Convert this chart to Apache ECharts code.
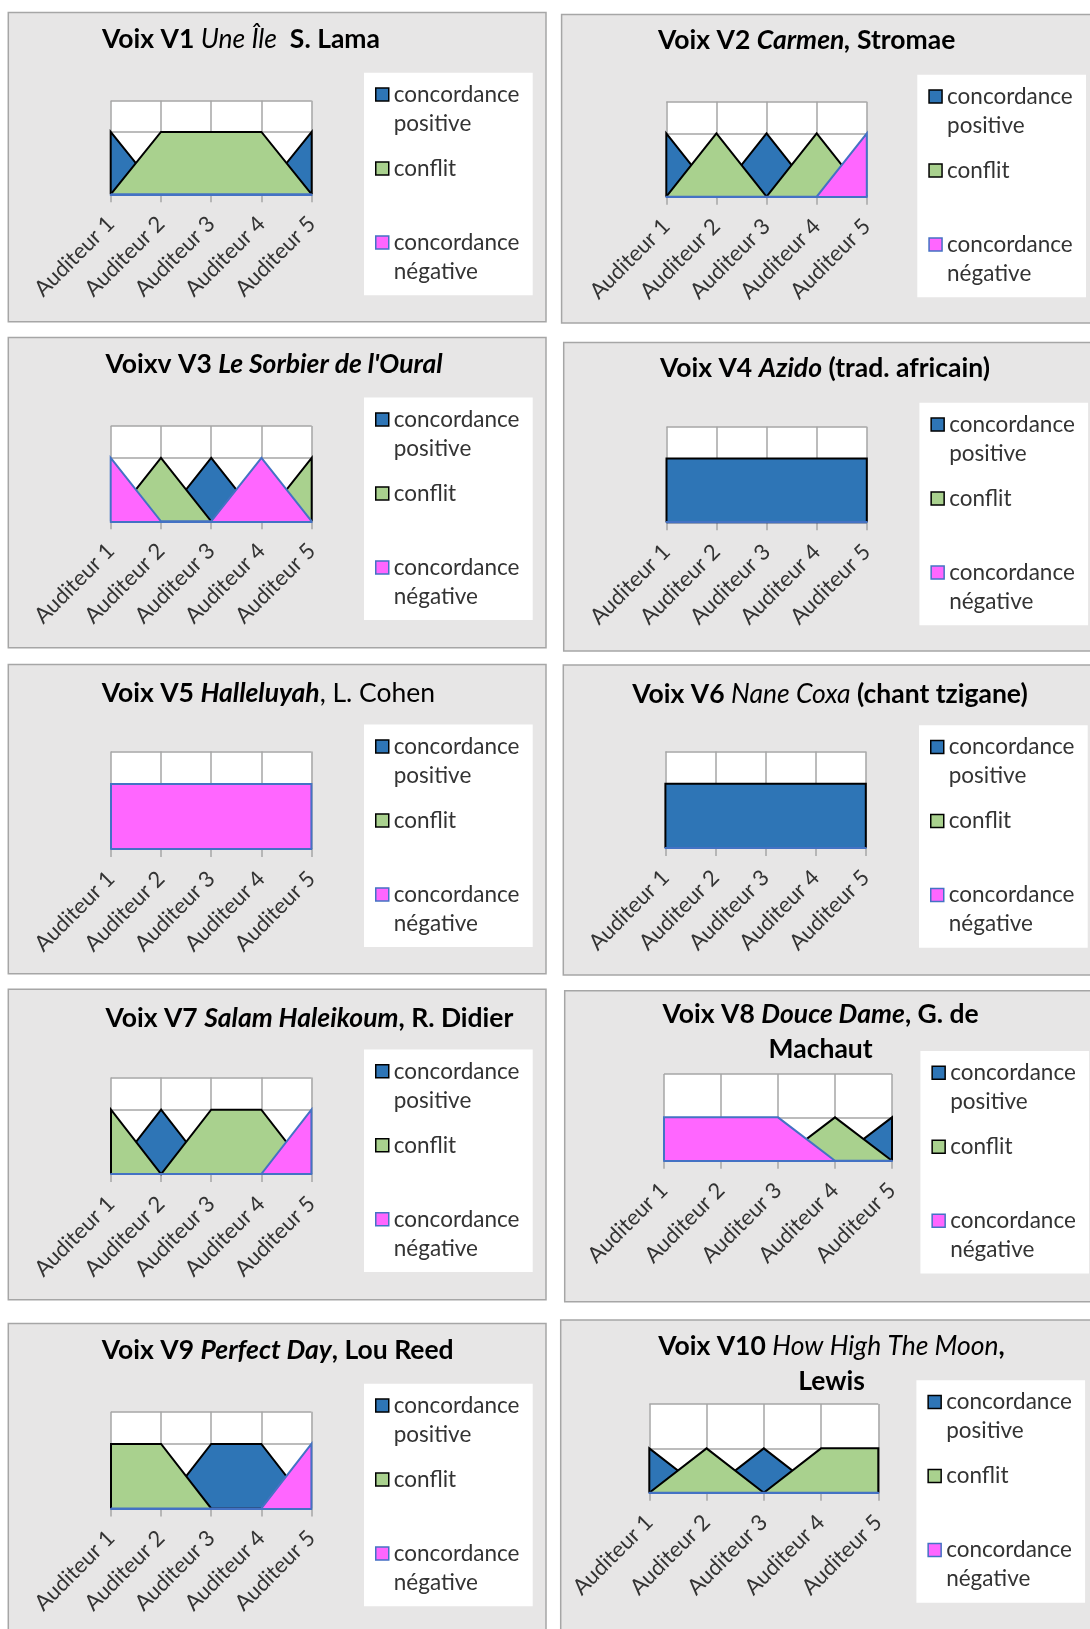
<!DOCTYPE html>
<html><head><meta charset="utf-8">
<script src="https://cdn.jsdelivr.net/npm/echarts@6/dist/echarts.min.js"></script>
<style>html,body{margin:0;padding:0;background:#fff}#c{width:1090px;height:1629px}</style>
</head><body><div id="c"></div>
<script>
// ---------- DATA ----------
const categories = ['Auditeur 1', 'Auditeur 2', 'Auditeur 3', 'Auditeur 4', 'Auditeur 5'];
const seriesNames = ['concordance positive', 'conflit', 'concordance négative'];
const legendLabels = ['concordance\npositive', 'conflit', 'concordance\nnégative'];

const v1Pos = [1, 0, 0, 0, 1], v1Con = [0, 1, 1, 1, 0], v1Neg = [0, 0, 0, 0, 0];
const v2Pos = [1, 0, 1, 0, 0], v2Con = [0, 1, 0, 1, 0], v2Neg = [0, 0, 0, 0, 1];
const v3Pos = [0, 0, 1, 0, 0], v3Con = [0, 1, 0, 0, 1], v3Neg = [1, 0, 0, 1, 0];
const v4Pos = [1, 1, 1, 1, 1], v4Con = [0, 0, 0, 0, 0], v4Neg = [0, 0, 0, 0, 0];
const v5Pos = [0, 0, 0, 0, 0], v5Con = [0, 0, 0, 0, 0], v5Neg = [1, 1, 1, 1, 1];
const v6Pos = [1, 1, 1, 1, 1], v6Con = [0, 0, 0, 0, 0], v6Neg = [0, 0, 0, 0, 0];
const v7Pos = [0, 1, 0, 0, 0], v7Con = [1, 0, 1, 1, 0], v7Neg = [0, 0, 0, 0, 1];
const v8Pos = [0, 0, 0, 0, 1], v8Con = [0, 0, 0, 1, 0], v8Neg = [1, 1, 1, 0, 0];
const v9Pos = [0, 0, 1, 1, 0], v9Con = [1, 1, 0, 0, 0], v9Neg = [0, 0, 0, 0, 1];
const v10Pos = [1, 0, 1, 0, 0], v10Con = [0, 1, 0, 1, 1], v10Neg = [0, 0, 0, 0, 0];

const voices = [
  [v1Pos, v1Con, v1Neg], [v2Pos, v2Con, v2Neg], [v3Pos, v3Con, v3Neg], [v4Pos, v4Con, v4Neg],
  [v5Pos, v5Con, v5Neg], [v6Pos, v6Con, v6Neg], [v7Pos, v7Con, v7Neg], [v8Pos, v8Con, v8Neg],
  [v9Pos, v9Con, v9Neg], [v10Pos, v10Con, v10Neg]
];

const titles = [
  '{b|Voix V1 }{i|Une Île}{b|  S. Lama}',
  '{b|Voix V2 }{bi|Carmen,}{b| Stromae}',
  "{b|Voixv V3 }{bi|Le Sorbier de l'Oural}",
  '{b|Voix V4 }{bi|Azido}{b| (trad. africain)}',
  '{b|Voix V5 }{bi|Halleluyah}{n|, L. Cohen}',
  '{b|Voix V6 }{i|Nane Coxa}{b| (chant tzigane)}',
  '{b|Voix V7 }{bi|Salam Haleikoum}{b|, R. Didier}',
  '{b|Voix V8 }{bi|Douce Dame}{b|, G. de}\n{b|Machaut}',
  '{b|Voix V9 }{bi|Perfect Day}{b|, Lou Reed}',
  '{b|Voix V10 }{i|How High The Moon}{b|,}\n{b|Lewis}'
];

// ---------- LAYOUT (pixels) ----------
const layout = [
  {px: 8.3,   py: 12.5,   ph: 309.3, tx: 241,   ty: 39.5,   g: [110.7, 311.7, 100.7, 194.3], ymax: 1.5, yint: 0.5},
  {px: 561.6, py: 14.5,   ph: 308.4, tx: 806.7, ty: 40.5,   g: [666.3, 866.8, 101.7, 196.7], ymax: 1.5, yint: 0.5},
  {px: 8.3,   py: 337.4,  ph: 310.4, tx: 274,   ty: 364.4,  g: [110.7, 311.7, 426, 521.3],   ymax: 1.5, yint: 0.5},
  {px: 563.7, py: 342.6,  ph: 308.3, tx: 825,   ty: 368.5,  g: [666.5, 866.8, 426.7, 522.2], ymax: 1.5, yint: 0.5},
  {px: 8.3,   py: 664.4,  ph: 309.3, tx: 268.4, ty: 693.4,  g: [111, 311.4, 751.6, 849.1],   ymax: 1.5, yint: 0.5},
  {px: 563.3, py: 665,    ph: 310,   tx: 830,   ty: 694.5,  g: [665.4, 865.8, 751.6, 848],   ymax: 1.5, yint: 0.5},
  {px: 8.3,   py: 989.3,  ph: 310.4, tx: 309.4, ty: 1018.3, g: [111, 311.4, 1077.5, 1174.1], ymax: 1.5, yint: 0.5},
  {px: 564.7, py: 990.7,  ph: 311,   tx: 820.6, ty: 1031.5, g: [664, 892, 1074, 1160.7],     ymax: 2,   yint: 1},
  {px: 8.3,   py: 1323.6, ph: 330,   tx: 277.7, ty: 1350.6, g: [111, 311.4, 1411.8, 1508.4], ymax: 1.5, yint: 0.5},
  {px: 560.7, py: 1320,   ph: 330,   tx: 831.5, ty: 1364,   g: [649.3, 878.3, 1404, 1492.7], ymax: 2,   yint: 1}
];
const PANEL_W = 537.7;
const FONT = 'Lato';
const fills = ['#2E75B6', '#A9D18E', '#FF66FF'];
const borders = ['#000000', '#000000', '#4472C4'];
const GRID_C = '#A6A6A6';
const TS = 26.5;

const grids = [], xAxes = [], yAxes = [], series = [], legends = [], graphics = [];

const titleRich = {
  b:  {fontFamily: FONT, fontSize: TS, fontWeight: 'bold', lineHeight: 35, color: '#000'},
  bi: {fontFamily: FONT, fontSize: TS, fontWeight: 'bold', fontStyle: 'italic', lineHeight: 35, color: '#000'},
  i:  {fontFamily: FONT, fontSize: TS, fontWeight: 'normal', fontStyle: 'italic', lineHeight: 35, color: '#000'},
  n:  {fontFamily: FONT, fontSize: TS, fontWeight: 'normal', lineHeight: 35, color: '#000'}
};

layout.forEach((L, i) => {
  // panel background & legend box
  graphics.push({type: 'rect', silent: true, z: -2, shape: {x: L.px, y: L.py, width: PANEL_W, height: L.ph},
    style: {fill: '#E7E6E6', stroke: '#A6A6A6', lineWidth: 1.5}});
  graphics.push({type: 'rect', silent: true, z: -1, shape: {x: L.px + 355.7, y: L.py + 60.2, width: 168.7, height: 222.5},
    style: {fill: '#FFFFFF'}});
  graphics.push({type: 'text', silent: true, z: 10, x: L.tx, y: L.ty,
    style: {text: titles[i], rich: titleRich, align: 'center', verticalAlign: 'middle'}});

  grids.push({left: L.g[0], width: L.g[1] - L.g[0], top: L.g[2], height: L.g[3] - L.g[2],
    show: true, backgroundColor: '#FFFFFF', borderWidth: 0, containLabel: false});
  xAxes.push({
    gridIndex: i, type: 'value', min: 0, max: categories.length - 1, interval: 1,
    axisLine: {show: false},
    axisTick: {show: true, length: 8, lineStyle: {color: GRID_C, width: 1.5}},
    splitLine: {show: true, lineStyle: {color: GRID_C, width: 1.5}},
    axisLabel: {rotate: 45, margin: 26, fontFamily: FONT, fontSize: 22, color: '#333',
      showMinLabel: true, showMaxLabel: true, formatter: v => categories[v]}
  });
  xAxes.push({
    gridIndex: i, type: 'value', min: 0, max: categories.length - 1, position: 'bottom', z: 8,
    axisLine: {show: true, onZero: false, lineStyle: {color: '#4472C4', width: 2}},
    axisTick: {show: false}, axisLabel: {show: false}, splitLine: {show: false}
  });
  yAxes.push({
    gridIndex: i, type: 'value', min: 0, max: L.ymax, interval: L.yint,
    axisLine: {show: false}, axisTick: {show: false}, axisLabel: {show: false},
    splitLine: {show: true, lineStyle: {color: GRID_C, width: 1.5}}
  });

  voices[i].forEach((vals, s) => {
    const data = [[0, 0]].concat(vals.map((v, k) => [k, v])).concat([[vals.length - 1, 0]]);
    series.push({
      type: 'line', name: seriesNames[s], xAxisIndex: 2 * i, yAxisIndex: i,
      data: data, symbol: 'none', clip: false, animation: false, z: 2 + s,
      lineStyle: {color: borders[s], width: 2, join: 'miter'},
      areaStyle: {color: fills[s], opacity: 1},
      itemStyle: {color: fills[s], borderColor: borders[s], borderWidth: 1.5}
    });
  });

  const lineH = 29;
  const centers = [82, 156, 230];
  seriesNames.forEach((nm, s) => {
    const twoLine = legendLabels[s].indexOf('\n') >= 0;
    const top = twoLine ? L.py + centers[s] - 1.5 * lineH : L.py + centers[s] - 0.5 * lineH;
    legends.push({
      orient: 'vertical', left: L.px + 366.7, top: top, padding: 0, itemGap: 0,
      itemWidth: 13, itemHeight: 13, icon: 'rect', selectedMode: false,
      data: [{name: nm, itemStyle: {color: fills[s], borderColor: borders[s], borderWidth: 1.5}}],
      formatter: () => twoLine ? ' \n' + legendLabels[s] : legendLabels[s],
      textStyle: {fontFamily: FONT, fontSize: 22.5, lineHeight: lineH, color: '#333'}
    });
  });
});

const chart = echarts.init(document.getElementById('c'), null, {renderer: 'canvas'});
chart.setOption({
  animation: false,
  backgroundColor: '#FFFFFF',
  grid: grids, xAxis: xAxes, yAxis: yAxes, series: series, legend: legends,
  graphic: {elements: graphics}
});
</script>
</body></html>
